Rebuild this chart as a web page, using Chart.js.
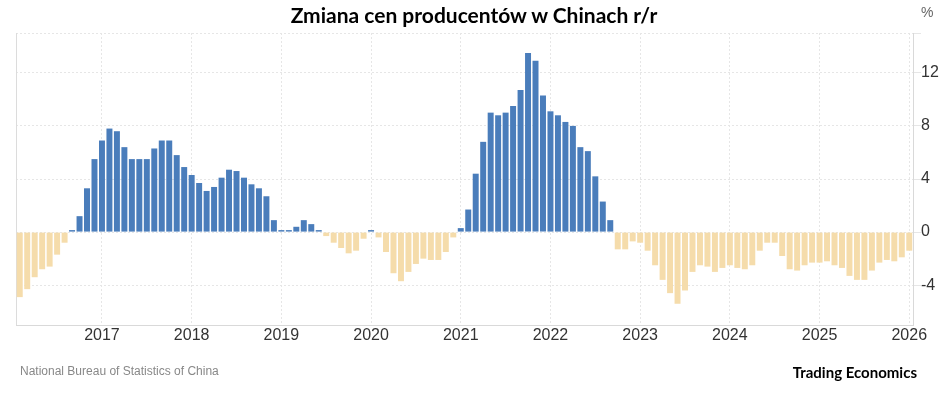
<!DOCTYPE html>
<html>
<head>
<meta charset="utf-8">
<script src="https://cdn.jsdelivr.net/npm/chart.js@4"></script>
<style>
    body { margin: 0; background: #fff; }
    #wrap { position: relative; width: 945px; height: 394px; }
    #title { position: absolute; left: 0; top: 0; width: 948px; text-align: center; font: bold 21px Lato, sans-serif; color: #000; line-height: 30px; }
    #unit { position: absolute; left: 921px; top: 4px; font: 14px "Liberation Sans", Arial, sans-serif; color: #666; }
    #source { position: absolute; left: 20px; top: 364px; font: 12px "Liberation Sans", Arial, sans-serif; color: #888; }
    #brand { position: absolute; right: 28px; top: 363px; font: bold 15px Lato, sans-serif; color: #000; }
</style>
</head>
<body>
<div id="wrap">
    <canvas id="ppiChart" width="945" height="394"></canvas>
    <div id="title">Zmiana cen producentów w Chinach r/r</div>
    <div id="unit">%</div>
    <div id="source">National Bureau of Statistics of China</div>
    <div id="brand">Trading Economics</div>
</div>
<script>
// Feb 2016 .. Jan 2026, monthly
const startYear = 2016;
const startMonth = 2;
const yearTicks = ['2017', '2018', '2019', '2020', '2021', '2022', '2023', '2024', '2025', '2026'];
const yTicks = [-4, 0, 4, 8, 12, 15];

const ppi2016 = [-4.9, -4.3, -3.4, -2.8, -2.6, -1.7, -0.8, 0.1, 1.2, 3.3, 5.5];
const ppi2017 = [6.9, 7.8, 7.6, 6.4, 5.5, 5.5, 5.5, 6.3, 6.9, 6.9, 5.8, 4.9];
const ppi2018 = [4.3, 3.7, 3.1, 3.4, 4.1, 4.7, 4.6, 4.1, 3.6, 3.3, 2.7, 0.9];
const ppi2019 = [0.1, 0.1, 0.4, 0.9, 0.6, 0.1, -0.3, -0.8, -1.2, -1.6, -1.4, -0.5];
const ppi2020 = [0.1, -0.4, -1.5, -3.1, -3.7, -3.0, -2.4, -2.0, -2.1, -2.1, -1.5, -0.4];
const ppi2021 = [0.3, 1.7, 4.4, 6.8, 9.0, 8.8, 9.0, 9.5, 10.7, 13.5, 12.9, 10.3];
const ppi2022 = [9.1, 8.8, 8.3, 8.0, 6.4, 6.1, 4.2, 2.3, 0.9, -1.3, -1.3, -0.7];
const ppi2023 = [-0.8, -1.4, -2.5, -3.6, -4.6, -5.4, -4.4, -3.0, -2.5, -2.6, -3.0, -2.7];
const ppi2024 = [-2.5, -2.7, -2.8, -2.5, -1.4, -0.8, -0.8, -1.8, -2.8, -2.9, -2.5, -2.3];
const ppi2025 = [-2.3, -2.2, -2.5, -2.7, -3.3, -3.6, -3.6, -2.9, -2.3, -2.1, -2.2, -1.9];
const ppi2026 = [-1.4];

const values = [].concat(ppi2016, ppi2017, ppi2018, ppi2019, ppi2020, ppi2021,
    ppi2022, ppi2023, ppi2024, ppi2025, ppi2026);

const labels = values.map((v, i) => {
    const m = startMonth - 1 + i;
    const y = startYear + Math.floor(m / 12);
    const mm = (m % 12) + 1;
    return y + '-' + (mm < 10 ? '0' + mm : mm);
});

const isYearStart = (i) => labels[i] && labels[i].endsWith('-01') && yearTicks.includes(labels[i].slice(0, 4));

const BLUE = '#4a7dbb';
const BEIGE = '#f5dcab';

// thin left border of the plot area
const leftBorder = {
    id: 'leftBorder',
    beforeDatasetsDraw(chart) {
        const { ctx, chartArea } = chart;
        ctx.save();
        ctx.strokeStyle = '#dcdcdc';
        ctx.lineWidth = 1;
        ctx.beginPath();
        ctx.moveTo(Math.round(chartArea.left) + 0.5, chartArea.top);
        ctx.lineTo(Math.round(chartArea.left) + 0.5, chartArea.bottom);
        ctx.stroke();
        ctx.restore();
    }
};

new Chart(document.getElementById('ppiChart'), {
    type: 'bar',
    data: {
        labels: labels,
        datasets: [{
            data: values,
            backgroundColor: values.map(v => v >= 0 ? BLUE : BEIGE),
            borderWidth: 0,
            minBarLength: 2,
            barPercentage: 0.8,
            categoryPercentage: 1.0
        }]
    },
    options: {
        responsive: false,
        animation: false,
        layout: { padding: { left: 16, top: 33, right: 0, bottom: 49 } },
        plugins: {
            legend: { display: false },
            tooltip: { enabled: false }
        },
        scales: {
            x: {
                offset: true,
                grid: {
                    offset: false,
                    drawTicks: false,
                    color: (ctx) => isYearStart(ctx.index) ? '#e6e6e6' : 'rgba(0,0,0,0)'
                },
                border: { display: true, color: '#d9d9d9', dash: [2, 2] },
                ticks: {
                    autoSkip: false,
                    maxRotation: 0,
                    padding: 1,
                    color: '#333',
                    font: { family: 'Liberation Sans, Arial, sans-serif', size: 16 },
                    callback: function (value, index) {
                        return isYearStart(index) ? labels[index].slice(0, 4) : '';
                    }
                },
                afterFit: (scale) => { scale.height = 20; }
            },
            y: {
                position: 'right',
                min: -7,
                max: 15,
                afterBuildTicks: (scale) => {
                    scale.ticks = yTicks.map(v => ({ value: v }));
                },
                grid: {
                    color: '#e6e6e6',
                    tickLength: 8,
                    tickColor: '#e6e6e6'
                },
                border: { display: true, color: '#d9d9d9', dash: [2, 2] },
                ticks: {
                    padding: 0,
                    color: '#333',
                    font: { family: 'Liberation Sans, Arial, sans-serif', size: 16 },
                    callback: (v) => v === 15 ? '' : v
                },
                afterFit: (scale) => { scale.width = 32; }
            }
        }
    },
    plugins: [leftBorder]
});
</script>
</body>
</html>
